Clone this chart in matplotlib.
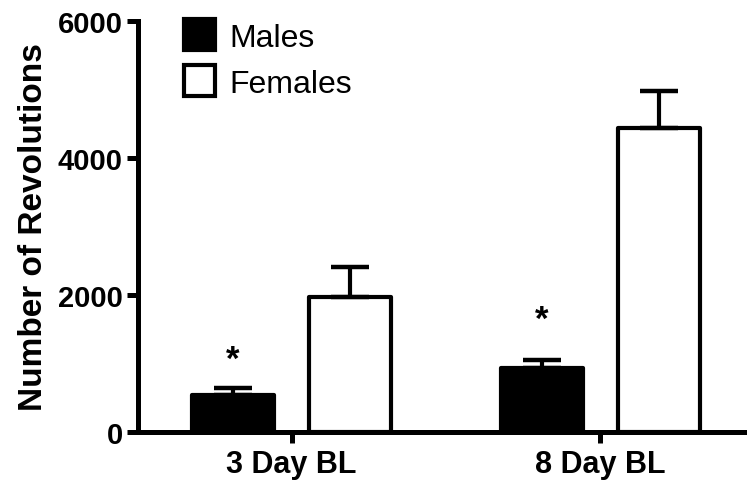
import matplotlib.pyplot as plt
import numpy as np

plt.rcParams['font.family'] = ['Liberation Sans', 'DejaVu Sans']

# Mean wheel revolutions and SEM per group
groups = ['3 Day BL', '8 Day BL']
males = [545, 935]
males_sem = [95, 115]
females = [1975, 4440]
females_sem = [440, 540]
star_y = [1060, 1650]

x = np.arange(len(groups))
offset = 0.19
width = 0.265

fig = plt.figure(figsize=(7.47, 4.85), dpi=100)
ax = fig.add_axes([0.1847, 0.1072, 0.8153, 0.8474])

err_kw = dict(elinewidth=3, capthick=3.2, capsize=14, ecolor='black')
ax.bar(x - offset, males, width, color='black', edgecolor='black', linewidth=3,
       joinstyle='round', label='Males',
       yerr=[np.zeros(2), males_sem], error_kw=err_kw)
ax.bar(x + offset, females, width, color='white', edgecolor='black', linewidth=3,
       joinstyle='round', label='Females',
       yerr=[np.zeros(2), females_sem], error_kw=err_kw)

for xi, yi in zip(x - offset, star_y):
    ax.text(xi, yi, '*', ha='center', va='center', fontsize=25, fontweight='bold')

ax.set_xlim(-0.498, 1.475)
ax.set_ylim(0, 6000)
ax.set_yticks([0, 2000, 4000, 6000])
ax.set_xticks(x)
ax.set_xticklabels(groups)
ax.set_ylabel('Number of Revolutions', fontsize=24, fontweight='bold', labelpad=6)

for side in ['top', 'right']:
    ax.spines[side].set_visible(False)
for side in ['left', 'bottom']:
    ax.spines[side].set_linewidth(3.6)
ax.tick_params(width=3.6, length=8)
ax.tick_params(axis='y', labelsize=21, pad=3)
ax.tick_params(axis='x', labelsize=22, pad=4)
for lbl in ax.get_xticklabels() + ax.get_yticklabels():
    lbl.set_fontweight('bold')

ax.legend(loc='upper left', bbox_to_anchor=(0.055, 1.035), frameon=False, fontsize=23,
          handlelength=0.95, handleheight=1.1, handletextpad=0.45, labelspacing=0.4,
          borderaxespad=0)

fig.savefig('out.png', dpi=100)
